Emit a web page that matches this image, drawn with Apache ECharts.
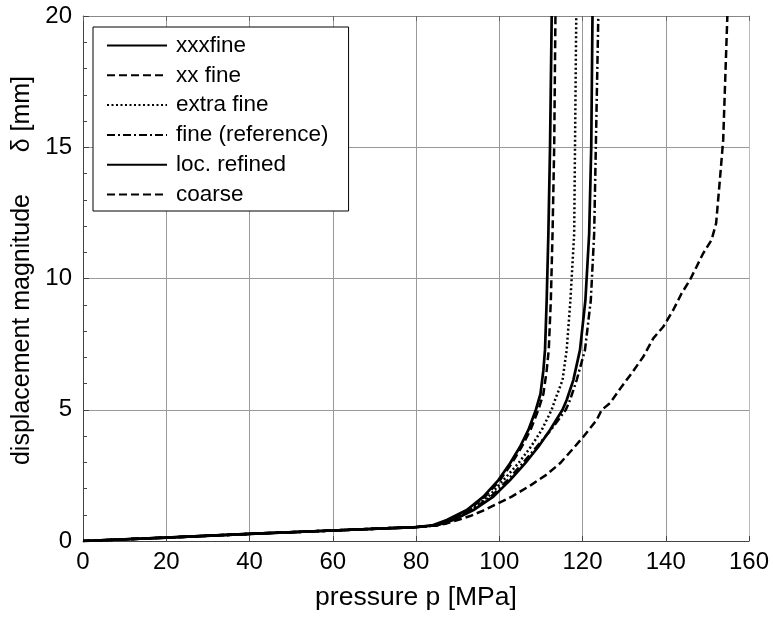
<!DOCTYPE html>
<html>
<head>
<meta charset="utf-8">
<script src="https://cdn.jsdelivr.net/npm/echarts@6/dist/echarts.min.js"></script>
<style>
html,body{margin:0;padding:0;background:#fff;}
#chart{width:773px;height:617px;}
</style>
</head>
<body>
<div id="chart"></div>
<script>
// pressure p [MPa] vs displacement magnitude δ [mm]
const xTicks = [0, 20, 40, 60, 80, 100, 120, 140, 160];
const yTicks = [0, 5, 10, 15, 20];
const seriesNames = ['xxxfine', 'xx fine', 'extra fine', 'fine (reference)', 'loc. refined', 'coarse'];

const xxxfine = [[0,0],[20,0.13],[40,0.27],[60,0.4],[80,0.53],[84,0.6],[87.4,0.8],[92.2,1.18],[96.2,1.69],[99.8,2.32],[102.6,2.96],[105,3.59],[107,4.23],[108.8,5.0],[109.9,5.6],[110.6,6.5],[111.0,7.3],[111.4,9.2],[111.8,11.7],[112.2,15],[112.6,20]];
const xxfine = [[0,0],[20,0.13],[40,0.27],[60,0.4],[80,0.53],[85,0.6],[88,0.8],[92.6,1.18],[96.6,1.69],[100.2,2.32],[103,2.96],[105.4,3.59],[107.5,4.23],[109.4,5.0],[110.6,5.6],[111.4,6.5],[111.9,7.3],[112.4,9.2],[112.8,11.7],[113.2,15],[113.5,20]];
const extrafine = [[0,0],[20,0.13],[40,0.27],[60,0.4],[80,0.53],[85,0.6],[88,0.78],[93,1.18],[97.4,1.69],[101,2.32],[104.6,2.96],[107.6,3.59],[110.2,4.23],[112.6,5.0],[113.4,5.37],[115.2,6.13],[116.2,7.28],[117.1,9.18],[118.0,11.7],[118.2,15],[118.5,20]];
const fineReference = [[0,0],[20,0.13],[40,0.27],[60,0.4],[80,0.53],[85,0.6],[88.5,0.8],[93.4,1.18],[98,1.69],[102,2.32],[105.6,2.96],[109,3.59],[112.4,4.23],[116,5.0],[117,5.37],[118.6,6.13],[120.6,7.28],[122.0,9.18],[122.8,11.7],[123.2,15],[123.8,20]];
const locRefined = [[0,0],[20,0.13],[40,0.27],[60,0.4],[80,0.53],[85,0.6],[89,0.8],[93.8,1.18],[98.6,1.69],[102.6,2.32],[106.2,2.96],[109.4,3.59],[112.2,4.23],[115.2,5.0],[116.2,5.37],[117.8,6.13],[119.4,7.28],[120.7,9.18],[121.6,11.7],[122.1,15],[122.4,20]];
const coarse = [[0,0],[20,0.13],[40,0.27],[60,0.4],[80,0.53],[85,0.6],[87.4,0.67],[90,0.8],[93,0.95],[96,1.15],[99,1.38],[103,1.69],[107.6,2.13],[111.2,2.51],[114.6,2.96],[117.8,3.53],[120.2,3.97],[123.4,4.61],[124.6,4.99],[126.6,5.25],[129.4,5.88],[131.8,6.39],[134.6,7.02],[137.0,7.72],[139.4,8.16],[141.8,8.80],[143.8,9.43],[145.8,9.94],[147.4,10.45],[149.0,10.96],[151.0,11.47],[152.1,12.1],[153.0,13.75],[153.8,15.28],[154.8,20]];

const seriesData = [xxxfine, xxfine, extrafine, fineReference, locRefined, coarse];
const dashTypes = ['solid', [8,4], [2,2.5], [8,3,2,3], 'solid', [8,4]];
const widths = [2.7, 2.5, 2.5, 2.5, 2.7, 2.5];

const FONT = '"Liberation Sans", Arial, Helvetica, sans-serif';
const chart = echarts.init(document.getElementById('chart'));
chart.setOption({
  animation: false,
  backgroundColor: '#fff',
  grid: {left: 83, right: 24, top: 16, bottom: 76, show: false},
  legend: {
    orient: 'vertical', left: 93, top: 27,
    backgroundColor: '#fff', borderColor: '#000', borderWidth: 1, borderRadius: 0,
    padding: [7, 20, 5, 13],
    itemWidth: 60, itemHeight: 14, itemGap: 6.8,
    itemStyle: {opacity: 0},
    textStyle: {fontFamily: FONT, fontSize: 22.5, color: '#000', padding: [0, 0, 0, 4]},
    data: seriesNames
  },
  xAxis: [{
    type: 'value', min: xTicks[0], max: xTicks[xTicks.length-1], interval: 20,
    name: 'pressure p [MPa]', nameLocation: 'middle', nameGap: 43,
    nameTextStyle: {fontFamily: FONT, fontSize: 26.5, color: '#000'},
    axisLine: {show: true, onZero: false, lineStyle: {color: '#444', width: 1}},
    axisTick: {show: true, inside: true, length: 5, lineStyle: {color: '#444'}},
    axisLabel: {fontFamily: FONT, fontSize: 24, color: '#000', margin: 9},
    splitLine: {show: true, lineStyle: {color: '#999', width: 1}}
  }, {
    type: 'value', position: 'top', min: xTicks[0], max: xTicks[xTicks.length-1], interval: 20,
    axisLine: {show: true, onZero: false, lineStyle: {color: '#888', width: 1}},
    axisTick: {show: true, inside: true, length: 5, lineStyle: {color: '#666'}},
    axisLabel: {show: false}, splitLine: {show: false}
  }],
  yAxis: [{
    type: 'value', min: yTicks[0], max: yTicks[yTicks.length-1], interval: 5,
    name: 'displacement magnitude      δ [mm]', nameLocation: 'middle', nameGap: 45,
    nameTextStyle: {fontFamily: FONT, fontSize: 25, color: '#000', padding: [0, 0, 0, 16]},
    axisLine: {show: true, onZero: false, lineStyle: {color: '#444', width: 1}},
    axisTick: {show: true, inside: true, length: 6, lineStyle: {color: '#444'}},
    minorTick: {show: true, splitNumber: 5, length: 4, lineStyle: {color: '#444'}},
    axisLabel: {fontFamily: FONT, fontSize: 24, color: '#000', margin: 11},
    splitLine: {show: true, lineStyle: {color: '#999', width: 1}}
  }, {
    type: 'value', position: 'right', min: yTicks[0], max: yTicks[yTicks.length-1], interval: 5,
    axisLine: {show: true, onZero: false, lineStyle: {color: '#bbb', width: 1}},
    axisTick: {show: false}, axisLabel: {show: false}, splitLine: {show: false}
  }],
  series: seriesNames.map((name, i) => ({
    name: name, type: 'line', data: seriesData[i],
    symbol: 'none', showSymbol: false, smooth: false, z: 10 - i,
    lineStyle: {color: '#000', width: widths[i], type: dashTypes[i]},
    itemStyle: {color: '#000'}
  }))
});
</script>
</body>
</html>
